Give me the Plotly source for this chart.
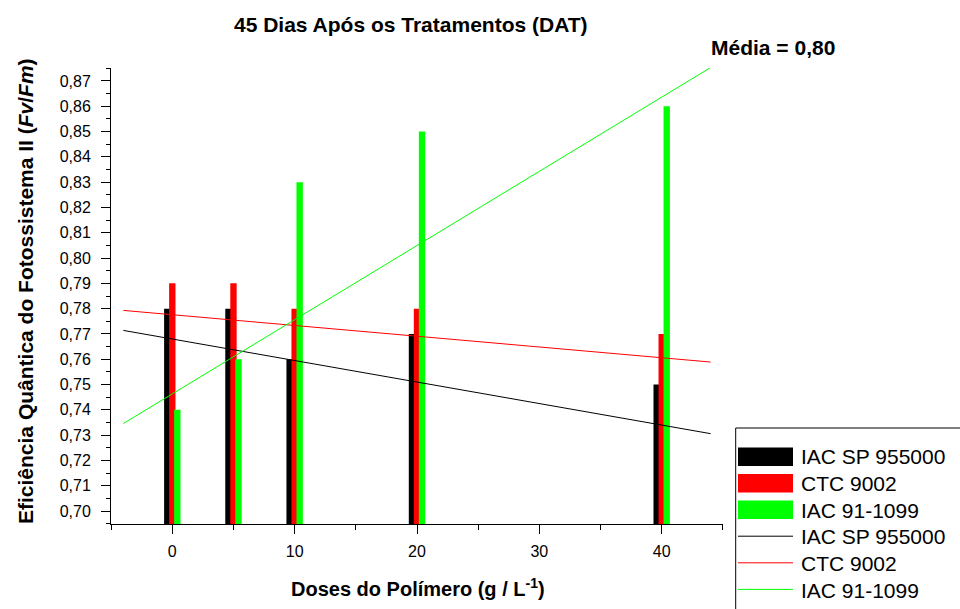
import plotly.graph_objects as go

# ---------------- data ----------------
doses = [0, 5, 10, 20, 40]
series_names = ["IAC SP 955000", "CTC 9002", "IAC 91-1099"]
iac_sp_955000 = [0.78, 0.78, 0.76, 0.77, 0.75]
ctc_9002 = [0.79, 0.79, 0.78, 0.78, 0.77]
iac_91_1099 = [0.74, 0.76, 0.83, 0.85, 0.86]

fit_x = [-4, 44]
fit_iac_sp_955000 = [0.7714, 0.7306]
fit_ctc_9002 = [0.7793, 0.7589]
fit_iac_91_1099 = [0.7346, 0.8753]

colors = ["#000000", "#ff0000", "#00ff00"]
bar_offsets = [-0.67, -0.26, 0.15]
bar_width = 0.52

title_text = "45 Dias Após os Tratamentos (DAT)"
mean_text = "Média = 0,80"
x_title = "Doses do Polímero (g / L<sup>-1</sup>)"
y_title = "Eficiência Quântica do Fotossistema II (<i>Fv</i>/<i>Fm</i>)"

# ---------------- layout geometry ----------------
W, H = 960, 609
L, R, T, B = 111, 237, 68, 85
PW, PH = W - L - R, H - T - B


def px(x):
    return (x - L) / PW


def py(y):
    return (H - B - y) / PH


FONT = "Liberation Sans, Arial, sans-serif"

fig = go.Figure()

bar_vals = [iac_sp_955000, ctc_9002, iac_91_1099]
for name, vals, c, off in zip(series_names, bar_vals, colors, bar_offsets):
    fig.add_trace(go.Bar(x=doses, y=vals, name=name, width=bar_width, offset=off,
                         marker=dict(color=c, line=dict(width=0)), showlegend=False))

fit_vals = [fit_iac_sp_955000, fit_ctc_9002, fit_iac_91_1099]
for name, vals, c in zip(series_names, fit_vals, colors):
    fig.add_trace(go.Scatter(x=fit_x, y=vals, mode="lines", name=name,
                             line=dict(color=c, width=1), showlegend=False))

axis_common = dict(showgrid=False, zeroline=False, showline=True, linecolor="black",
                   linewidth=1, ticks="outside", ticklen=9, tickwidth=1, tickcolor="black",
                   tickfont=dict(family=FONT, size=16, color="black"))

fig.update_layout(
    width=W, height=H, margin=dict(l=L, r=R, t=T, b=B, pad=0),
    paper_bgcolor="white", plot_bgcolor="white",
    barmode="overlay", showlegend=False, separators=",.",
    font=dict(family=FONT, color="black"),
    xaxis=dict(range=[-5.01, 45.01], tickmode="linear", tick0=0, dtick=10,
               minor=dict(tickmode="linear", tick0=0, dtick=5, ticks="outside", ticklen=5,
                          tickcolor="black", tickwidth=1, showgrid=False),
               ticklabelstandoff=4, **axis_common),
    yaxis=dict(range=[0.6949, 0.8751], tickmode="linear", tick0=0.70, dtick=0.01,
               tickformat=".2f",
               minor=dict(tickmode="linear", tick0=0.70, dtick=0.005, ticks="outside",
                          ticklen=4, tickcolor="black", tickwidth=1, showgrid=False),
               ticklabelstandoff=7, **axis_common),
)

annotations = [
    dict(text="<b>" + title_text + "</b>", x=px(411), y=py(25), font=dict(size=21)),
    dict(text="<b>" + mean_text + "</b>", x=px(773), y=py(47.5), font=dict(size=21)),
    dict(text="<b>" + x_title + "</b>", x=px(418), y=py(587), font=dict(size=20)),
    dict(text="<b>" + y_title + "</b>", x=px(25), y=py(291), textangle=-90,
         font=dict(size=21)),
]
for a in annotations:
    a.update(xref="paper", yref="paper", xanchor="center", yanchor="middle",
             showarrow=False)
    a["font"].update(family=FONT, color="black")

shapes = [dict(type="rect", xref="paper", yref="paper", x0=px(735.7), x1=px(1010),
               y0=py(428), y1=py(700), line=dict(color="black", width=1))]

swatch_centers = [456.8, 483.3, 509.7]
line_centers = [536.2, 562.8, 589.4]
text_centers = [456.7, 483.3, 510.0, 536.7, 563.3, 590.0]
for c, yc in zip(colors, swatch_centers):
    shapes.append(dict(type="rect", xref="paper", yref="paper", x0=px(738), x1=px(793),
                       y0=py(yc + 9.2), y1=py(yc - 9.2), fillcolor=c,
                       line=dict(width=0)))
for c, yc in zip(colors, line_centers):
    shapes.append(dict(type="line", xref="paper", yref="paper", x0=px(738), x1=px(793),
                       y0=py(yc), y1=py(yc), line=dict(color=c, width=1)))
legend_labels = series_names + series_names
for name, yc in zip(legend_labels, text_centers):
    annotations.append(dict(text=name, xref="paper", yref="paper", x=px(799), y=py(yc),
                            xanchor="left", yanchor="middle", showarrow=False,
                            font=dict(family=FONT, size=21, color="black")))

fig.update_layout(annotations=annotations, shapes=shapes)
fig.write_html("out.html", config={"displayModeBar": False},
               post_script="document.body.style.margin='0';document.body.style.overflow='hidden';")
